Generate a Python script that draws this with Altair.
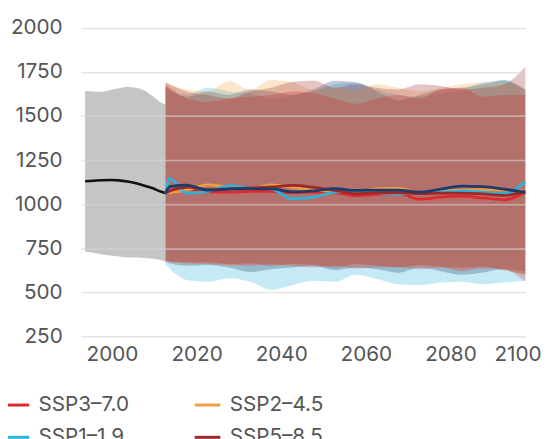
import altair as alt
import pandas as pd

FONT = "Inter"
TXT = "#555555"

# ---------------- data ----------------
years_hist = [1996, 1998, 2000, 2002, 2004, 2006, 2008, 2010, 2012, 2014, 2015]
hist_mean = [1130, 1133, 1136, 1137, 1135, 1128, 1118, 1105, 1090, 1070, 1062]
hist_hi = [1642, 1640, 1638, 1648, 1658, 1665, 1660, 1645, 1612, 1575, 1565]
hist_lo = [732, 724, 715, 709, 703, 699, 697, 694, 690, 682, 675]

scenarios = ["SSP3–7.0", "SSP2–4.5", "SSP1–1.9", "SSP5–8.5", "SSP1–2.6"]
colors = ["#e2282c", "#ef9f3f", "#2bb3d9", "#9a2a2a", "#1e3a6a"]

years_line = [2015, 2016, 2020, 2025, 2030, 2035, 2040, 2045, 2050, 2055,
              2060, 2065, 2070, 2075, 2080, 2085, 2090, 2095, 2100]
mean_ssp370 = [1062, 1070, 1085, 1070, 1068, 1072, 1072, 1065, 1068, 1065,
               1048, 1055, 1062, 1028, 1040, 1045, 1035, 1025, 1068]
mean_ssp245 = [1062, 1066, 1080, 1110, 1095, 1087, 1110, 1095, 1080, 1074,
               1070, 1088, 1090, 1065, 1075, 1080, 1082, 1080, 1074]
mean_ssp119 = [1062, 1145, 1062, 1072, 1104, 1092, 1085, 1030, 1040, 1068,
               1075, 1065, 1060, 1065, 1068, 1075, 1068, 1060, 1128]
mean_ssp585 = [1062, 1075, 1096, 1082, 1088, 1092, 1098, 1106, 1095, 1078,
               1060, 1065, 1066, 1060, 1062, 1063, 1058, 1050, 1072]
mean_ssp126 = [1062, 1100, 1108, 1080, 1085, 1087, 1087, 1070, 1075, 1088,
               1078, 1080, 1080, 1068, 1085, 1103, 1100, 1085, 1068]

years_band = [2015, 2020, 2025, 2030, 2035, 2040, 2045, 2050, 2055,
              2060, 2065, 2070, 2075, 2080, 2085, 2090, 2095, 2100]
hi_ssp370 = [1680, 1600, 1580, 1600, 1610, 1620, 1640, 1630, 1600,
             1570, 1600, 1620, 1600, 1650, 1660, 1610, 1620, 1620]
lo_ssp370 = [675, 665, 660, 655, 650, 660, 650, 640, 650,
             635, 640, 645, 630, 640, 620, 635, 630, 560]
hi_ssp245 = [1690, 1650, 1640, 1698, 1650, 1705, 1690, 1650, 1660,
             1640, 1680, 1660, 1640, 1660, 1680, 1690, 1690, 1650]
lo_ssp245 = [675, 660, 665, 650, 660, 655, 650, 660, 640,
             650, 655, 640, 650, 640, 630, 640, 630, 600]
hi_ssp119 = [1670, 1620, 1660, 1640, 1630, 1600, 1620, 1640, 1680,
             1690, 1650, 1620, 1610, 1630, 1650, 1690, 1700, 1640]
lo_ssp119 = [658, 570, 560, 580, 560, 515, 540, 565, 560,
             600, 575, 545, 540, 555, 560, 545, 555, 565]
hi_ssp585 = [1690, 1640, 1620, 1600, 1640, 1660, 1695, 1700, 1660,
             1680, 1660, 1650, 1680, 1670, 1650, 1660, 1680, 1780]
lo_ssp585 = [680, 670, 670, 660, 665, 650, 660, 655, 640,
             660, 650, 640, 655, 645, 640, 645, 625, 600]
hi_ssp126 = [1660, 1610, 1640, 1620, 1650, 1640, 1620, 1650, 1700,
             1690, 1640, 1590, 1620, 1650, 1660, 1680, 1705, 1650]
lo_ssp126 = [670, 650, 655, 640, 615, 630, 640, 650, 625,
             640, 630, 610, 640, 620, 600, 612, 630, 620]

x_ticks = [2000, 2020, 2040, 2060, 2080, 2100]
y_ticks = [250, 500, 750, 1000, 1250, 1500, 1750, 2000]

# ---------------- tables ----------------
means = dict(zip(scenarios, [mean_ssp370, mean_ssp245, mean_ssp119, mean_ssp585, mean_ssp126]))
his = dict(zip(scenarios, [hi_ssp370, hi_ssp245, hi_ssp119, hi_ssp585, hi_ssp126]))
los = dict(zip(scenarios, [lo_ssp370, lo_ssp245, lo_ssp119, lo_ssp585, lo_ssp126]))
cmap = dict(zip(scenarios, colors))

hist_df = pd.DataFrame({"year": years_hist, "mean": hist_mean, "lo": hist_lo, "hi": hist_hi})
line_rows = []
for s in scenarios:
    for y, v in zip(years_line, means[s]):
        line_rows.append({"year": y, "value": v, "scenario": s})
line_df = pd.DataFrame(line_rows)

xscale = alt.Scale(domain=[1995, 2100], nice=False, zero=False)
yscale = alt.Scale(domain=[250, 2000], nice=False, zero=False)

xaxis = alt.Axis(
    values=x_ticks, format="d", grid=False, domain=False, ticks=False, tickSize=0,
    labelPadding=8, labelFontSize=21, labelColor=TXT, labelFont=FONT,
    labelFlush=1, labelFlushOffset=6, labelOffset=10,
    labelOverlap=False, title=None,
)
yaxis = alt.Axis(
    values=y_ticks, format="d", grid=True, gridColor="#d4d4d4", gridOpacity=0.6, gridWidth=1.6,
    domain=False, ticks=False, tickSize=0, labelPadding=19, labelFontSize=21,
    labelColor=TXT, labelFont=FONT, title=None, zindex=1,
)

X = alt.X("year:Q", scale=xscale, axis=xaxis)
Y = alt.Y("lo:Q", scale=yscale, axis=yaxis)

layers = []
layers.append(
    alt.Chart(hist_df).mark_area(color="#c4c5c5", opacity=1, interpolate="monotone")
    .encode(x=X, y=Y, y2="hi:Q")
)
band_order = ["SSP1–1.9", "SSP1–2.6", "SSP2–4.5", "SSP3–7.0", "SSP5–8.5"]
for s in band_order:
    bdf = pd.DataFrame({"year": years_band, "lo": los[s], "hi": his[s]})
    layers.append(
        alt.Chart(bdf).mark_area(color=cmap[s], opacity=0.27, interpolate="monotone")
        .encode(x=X, y=Y, y2="hi:Q")
    )
layers.append(
    alt.Chart(hist_df).mark_line(color="#111111", strokeWidth=2.6, interpolate="monotone")
    .encode(x=X, y=alt.Y("mean:Q", scale=yscale, axis=yaxis))
)
layers.append(
    alt.Chart(line_df).mark_line(strokeWidth=2.8, interpolate="monotone")
    .encode(
        x=X,
        y=alt.Y("value:Q", scale=yscale, axis=yaxis),
        color=alt.Color(
            "scenario:N",
            scale=alt.Scale(domain=scenarios, range=colors),
            legend=alt.Legend(
                title=None, orient="none", legendX=-80, legendY=368, columns=2,
                direction="horizontal",
                symbolType="stroke", symbolSize=676, symbolStrokeWidth=3,
                labelFontSize=21, labelFont=FONT, labelColor=TXT, labelOffset=8,
                columnPadding=60, rowPadding=8, labelLimit=300,
            ),
        ),
        order=alt.Order("scenario:N"),
    )
)

chart = alt.layer(*layers).properties(
    width=451, height=313,
    autosize=alt.AutoSizeParams(type="none"),
    padding={"left": 74, "top": 17, "right": 18, "bottom": 103},
).configure_view(stroke=None)

chart.save("out.html", embed_options={"renderer": "svg", "actions": False})
